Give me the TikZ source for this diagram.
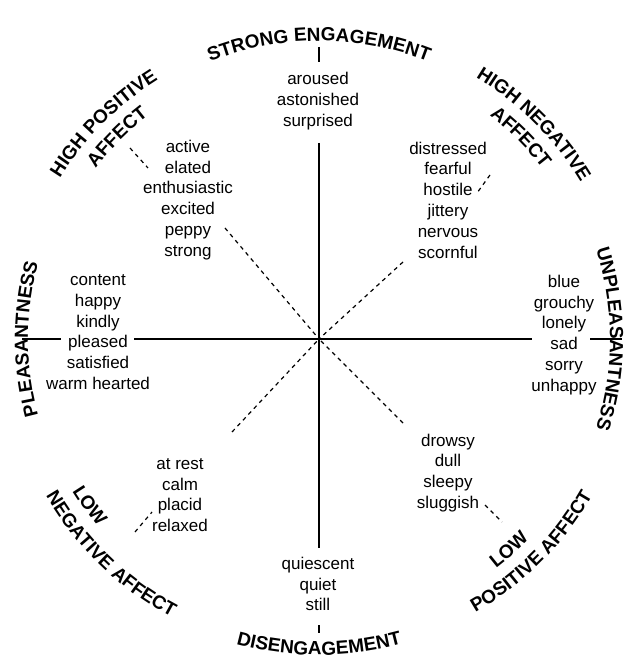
\documentclass[tikz,border=0pt]{standalone}
\usepackage{fontspec}
\setmainfont{Liberation Sans}
\usetikzlibrary{decorations.text}
\begin{document}
\begin{tikzpicture}[x=1pt,y=1pt,
  words/.style={align=center,font=\fontsize{17}{20.8}\selectfont,inner sep=0pt},
  axis/.style={line width=2.6pt},
  dsh/.style={line width=1.2pt,dash pattern=on 4pt off 4pt},
  lab/.style={decorate,decoration={text along path,text align=center,
     text={|\fontsize{19}{19}\bfseries|#1}}}]
\useasboundingbox (0,0) rectangle (640,662);
\coordinate (C) at (319,323);
% axes
\coordinate (t1) at (319,615); \coordinate (t2) at (319,600);
\coordinate (t3) at (319,519); \coordinate (b3) at (319,114);
\coordinate (b1) at (319,29); \coordinate (b2) at (319,37);
\coordinate (l1) at (22,323); \coordinate (l2) at (61,323);
\coordinate (l3) at (134,323); \coordinate (r3) at (532,323);
\coordinate (r1) at (590,323); \coordinate (r2) at (622,323);
\draw[axis] (t1)--(t2); \draw[axis] (t3)--(b3); \draw[axis] (b1)--(b2);
\draw[axis] (l1)--(l2); \draw[axis] (l3)--(r3); \draw[axis] (r1)--(r2);
% diagonals
\coordinate (d1) at (225,434); \coordinate (d2) at (403,400);
\coordinate (d3) at (232,230); \coordinate (d4) at (403,239);
\draw[dsh] (d1)--(C); \draw[dsh] (d2)--(C);
\draw[dsh] (d3)--(C); \draw[dsh] (d4)--(C);
\coordinate (s1) at (130,514); \coordinate (s2) at (148,494);
\coordinate (s3) at (490,487); \coordinate (s4) at (477,469);
\coordinate (s5) at (135,130); \coordinate (s6) at (152,150);
\coordinate (s7) at (485,157); \coordinate (s8) at (502,140);
\draw[dsh] (s1)--(s2); \draw[dsh] (s3)--(s4);
\draw[dsh] (s5)--(s6); \draw[dsh] (s7)--(s8);
% word lists
\node[words] (top) at (318,561) {aroused\\astonished\\surprised};
\node[words] (ul) at (188,462) {active\\elated\\enthusiastic\\excited\\peppy\\strong};
\node[words] (ur) at (448,462) {distressed\\fearful\\hostile\\jittery\\nervous\\scornful};
\node[words] (lw) at (98,330) {content\\happy\\kindly\\pleased\\satisfied\\warm hearted};
\node[words] (rw) at (564,327) {blue\\grouchy\\lonely\\sad\\sorry\\unhappy};
\node[words] (ll) at (180,167) {at rest\\calm\\placid\\relaxed};
\node[words] (lr) at (448,189) {drowsy\\dull\\sleepy\\sluggish};
\node[words] (bt) at (318,78) {quiescent\\quiet\\still};
% curved labels
\path[lab=STRONG ENGAGEMENT] ([shift={(130:298)}]C) arc[start angle=130,end angle=50,radius=298];
\path[lab=DISENGAGEMENT] ([shift={(235:316)}]C) arc[start angle=235,end angle=305,radius=316];
\path[lab=PLEASANTNESS] ([shift={(215:291)}]C) arc[start angle=215,end angle=145,radius=291];
\path[lab=UNPLEASANTNESS] ([shift={(40:291)}]C) arc[start angle=40,end angle=-40,radius=291];
\path[lab=HIGH POSITIVE] ([shift={(165:305)}]C) arc[start angle=165,end angle=105,radius=305];
\path[lab=AFFECT] ([shift={(155:281)}]C) arc[start angle=155,end angle=115,radius=281];
\path[lab=HIGH NEGATIVE] ([shift={(75:305)}]C) arc[start angle=75,end angle=15,radius=305];
\path[lab=AFFECT] ([shift={(65:281)}]C) arc[start angle=65,end angle=25,radius=281];
\path[lab=LOW] ([shift={(204:290)}]C) arc[start angle=204,end angle=228,radius=290];
\path[lab=NEGATIVE AFFECT] ([shift={(196:315)}]C) arc[start angle=196,end angle=256,radius=315];
\path[lab=LOW] ([shift={(300:290)}]C) arc[start angle=300,end angle=324,radius=290];
\path[lab=POSITIVE AFFECT] ([shift={(285:315)}]C) arc[start angle=285,end angle=345,radius=315];
\end{tikzpicture}
\end{document}
